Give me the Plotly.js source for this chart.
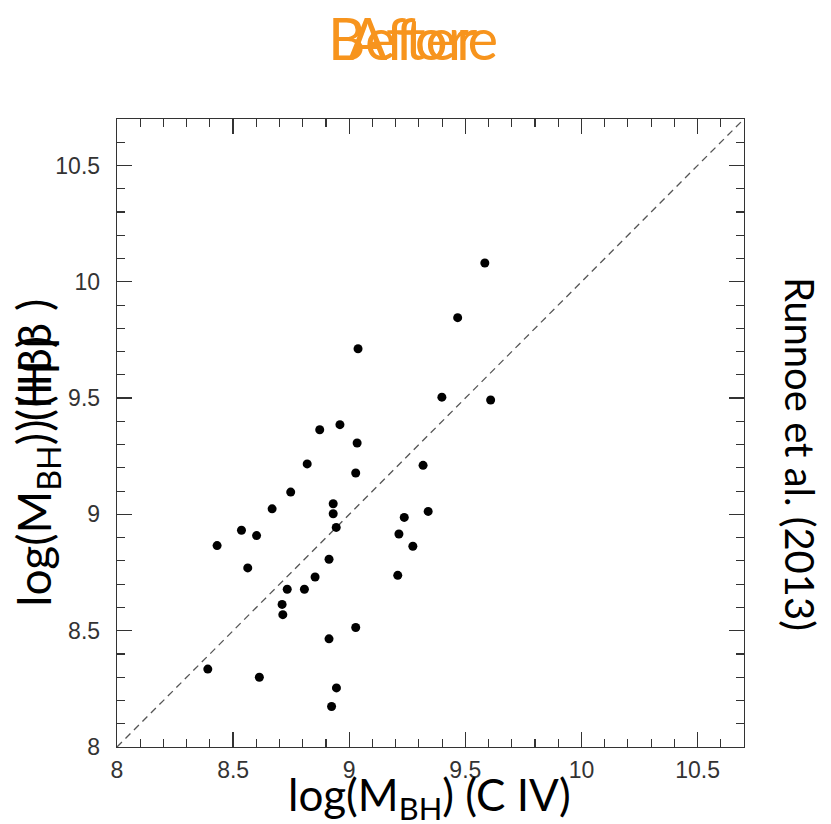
<!DOCTYPE html>
<html>
<head>
<meta charset="utf-8">
<script src="https://cdn.plot.ly/plotly-3.0.1.min.js"></script>
<style>html,body{margin:0;padding:0;background:#fff;}#chart{width:831px;height:824px;}</style>
</head>
<body>
<div id="chart"></div>
<script>
// Data
const logM_CIV = [9.038, 8.960, 8.873, 9.034, 8.819, 9.318, 9.028, 8.748, 8.931, 8.668,
                  9.340, 8.931, 9.237, 8.944, 8.536, 8.601, 9.214, 8.431, 9.274, 8.913,
                  8.563, 9.209, 8.853, 8.733, 8.807, 8.711, 8.714, 9.028, 8.913, 8.391,
                  8.613, 8.945, 8.924, 9.584, 9.467, 9.399, 9.609];
const logM_Hbeta = [9.712, 9.386, 9.364, 9.307, 9.217, 9.211, 9.178, 9.096, 9.046, 9.024,
                    9.013, 9.003, 8.987, 8.944, 8.932, 8.909, 8.916, 8.866, 8.863, 8.807,
                    8.770, 8.738, 8.731, 8.678, 8.678, 8.613, 8.569, 8.514, 8.465, 8.335,
                    8.300, 8.254, 8.174, 10.081, 9.846, 9.504, 9.492];
const oneToOne = [8, 10.7];
const tickVals = [8, 8.5, 9, 9.5, 10, 10.5];
const tickText = ['8', '8.5', '9', '9.5', '10', '10.5'];

const titleFont = 'Lato, "Open Sans", sans-serif';

const traces = [
  {x: oneToOne, y: oneToOne, mode: 'lines', type: 'scatter', hoverinfo: 'skip',
   line: {color: '#555', width: 1.3, dash: '7px,5px'}},
  {x: logM_CIV, y: logM_Hbeta, mode: 'markers', type: 'scatter',
   marker: {color: '#000', size: 9}}
];

function makeAxis(standoff) {
  return {
    range: [8, 10.7], tickvals: tickVals, ticktext: tickText,
    ticks: 'inside', ticklen: 15, tickwidth: 1.3, tickcolor: '#333',
    showline: true, linecolor: '#333', linewidth: 1.3, mirror: 'ticks',
    showgrid: false, zeroline: false, automargin: false,
    ticklabelstandoff: standoff,
    tickfont: {family: '"Liberation Sans", Arial, sans-serif', size: 23, color: '#333'},
    minor: {dtick: 0.1, tick0: 8, ticks: 'inside', ticklen: 8, tickwidth: 1.1, tickcolor: '#333', showgrid: false}
  };
}

const layout = {
  width: 831, height: 824,
  margin: {l: 117, r: 87, t: 119, b: 77},
  paper_bgcolor: '#fff', plot_bgcolor: '#fff',
  showlegend: false,
  xaxis: makeAxis(2),
  yaxis: makeAxis(11),
  annotations: [
    {text: 'Before', xref: 'paper', yref: 'paper', x: 0.472, y: 1.13, xanchor: 'center', yanchor: 'middle',
     showarrow: false, font: {family: titleFont, size: 58, color: '#F7941D'}},
    {text: 'After', xref: 'paper', yref: 'paper', x: 0.472, y: 1.13, xanchor: 'center', yanchor: 'middle',
     showarrow: false, font: {family: titleFont, size: 58, color: '#F7941D'}},
    {text: 'log(M<sub>BH</sub>) (C IV)', xref: 'paper', yref: 'paper', x: 0.499, y: -0.081, xanchor: 'center', yanchor: 'middle',
     showarrow: false, font: {family: titleFont, size: 44, color: '#000'}},
    {text: 'log(M<sub>BH</sub>) (Hβ)', xref: 'paper', yref: 'paper', x: -0.128, y: 0.221, xanchor: 'center', yanchor: 'bottom',
     textangle: -90, showarrow: false, font: {family: titleFont, size: 46, color: '#000'}},
    {text: '<span style="color:rgba(0,0,0,0)">log(M<sub>BH</sub></span>) (H β )', xref: 'paper', yref: 'paper', x: -0.128, y: 0.242, xanchor: 'center', yanchor: 'bottom',
     textangle: -90, showarrow: false, font: {family: titleFont, size: 46, color: '#000'}},
    {text: 'Runnoe et al. (2013)', xref: 'paper', yref: 'paper', x: 1.089, y: 0.467, xanchor: 'center', yanchor: 'middle',
     textangle: 90, showarrow: false, font: {family: titleFont, size: 40, color: '#000'}}
  ]
};

Plotly.newPlot('chart', traces, layout, {staticPlot: true, displayModeBar: false});
</script>
</body>
</html>
